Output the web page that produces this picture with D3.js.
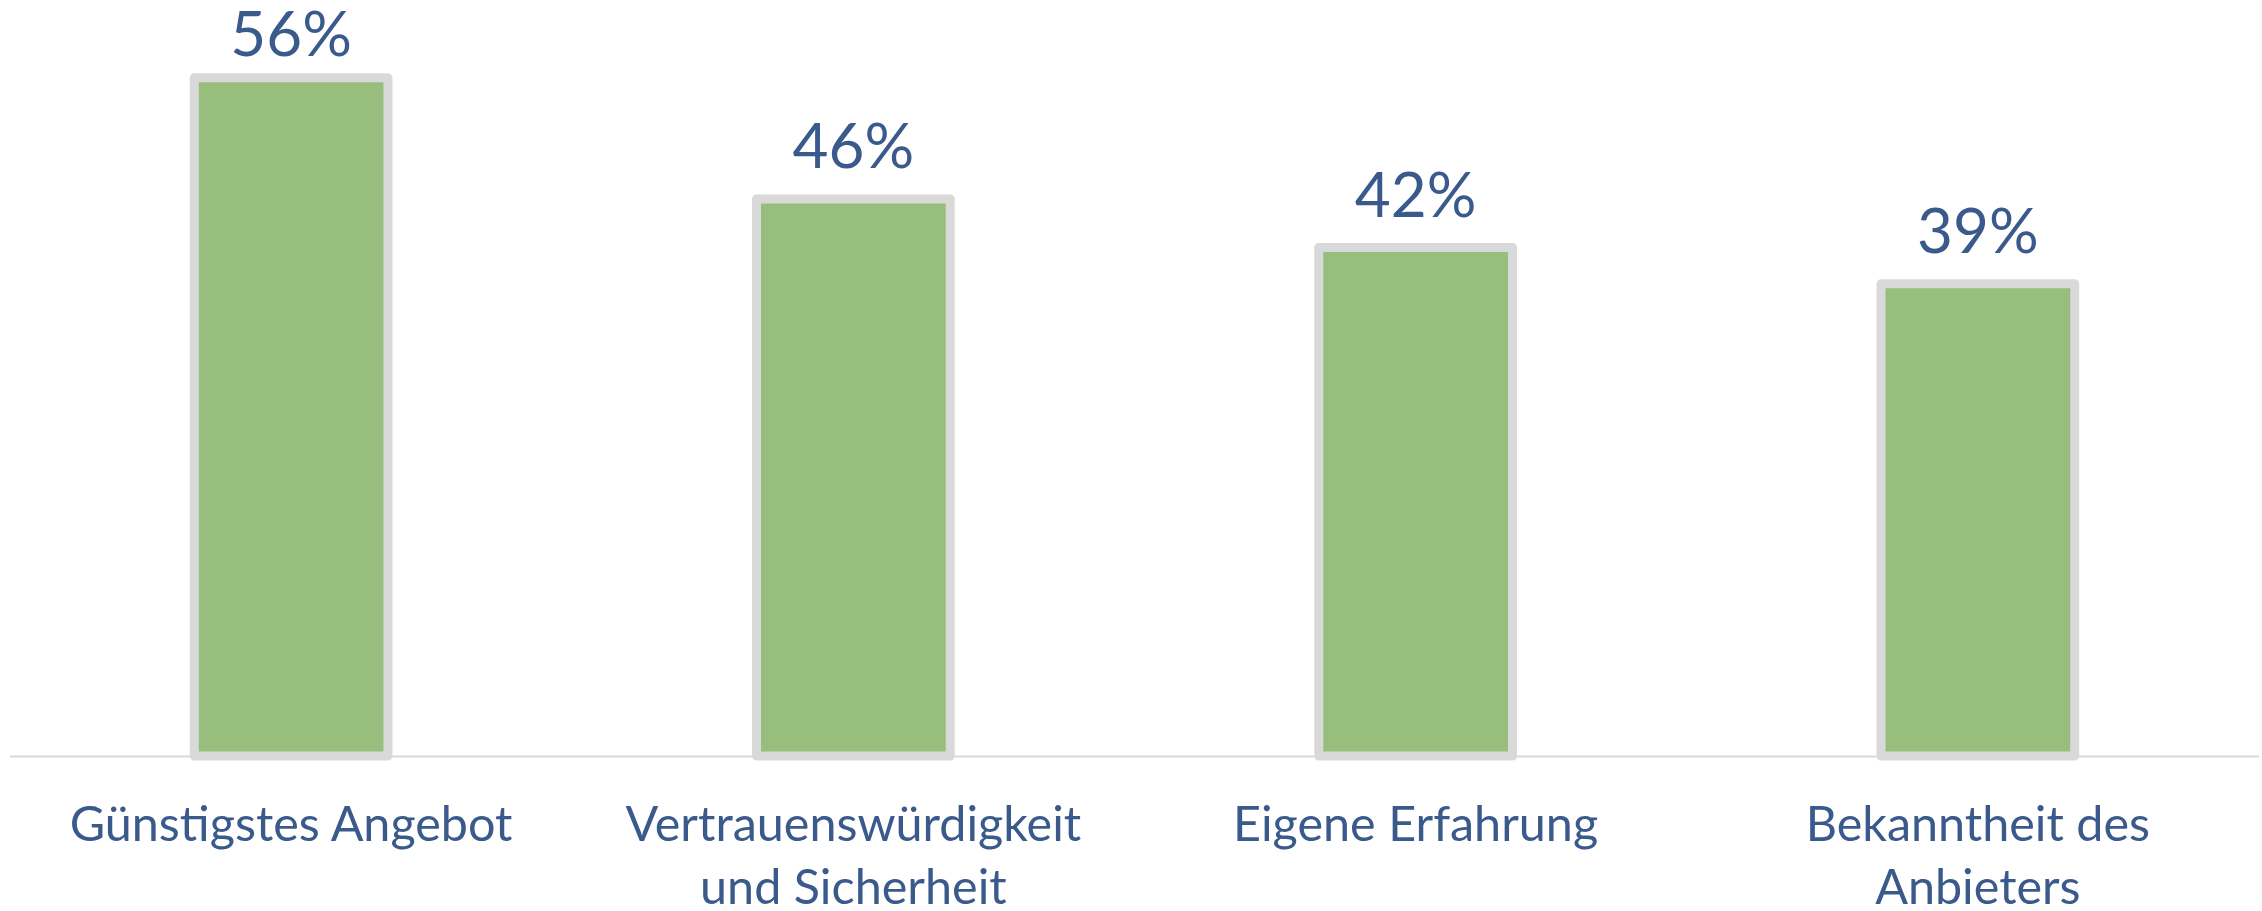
<!DOCTYPE html>
<html>
<head>
<meta charset="utf-8">
<script src="https://cdn.jsdelivr.net/npm/d3@7"></script>
<style>
  html, body { margin: 0; padding: 0; background: #fff; }
  svg { display: block; }
</style>
</head>
<body>
<script>
// data
const categories = [
  ["Günstigstes Angebot"],
  ["Vertrauenswürdigkeit", "und Sicherheit"],
  ["Eigene Erfahrung"],
  ["Bekanntheit des", "Anbieters"]
];
const values = [56, 46, 42, 39];

const width = 2262,
    height = 911,
    textColor = "#3b5a8c";

const svg = d3.select("body").append("svg")
    .attr("width", width)
    .attr("height", height)
    .style("font-family", "Lato, 'Open Sans', sans-serif");

const x = d3.scaleBand()
    .domain(d3.range(values.length))
    .range([10, 2259])
    .padding(0);

const y = d3.scaleLinear()
    .domain([0, 60])
    .range([756, 29.4]);

const barW = x.bandwidth() * 0.3445;

// baseline
svg.append("line")
    .attr("x1", x.range()[0])
    .attr("x2", x.range()[1])
    .attr("y1", y(0) + 0.5)
    .attr("y2", y(0) + 0.5)
    .attr("stroke", "#d9d9d9")
    .attr("stroke-width", 2);

// bars
svg.append("g")
  .selectAll("rect")
  .data(values)
  .join("rect")
    .attr("x", (d, i) => x(i) + (x.bandwidth() - barW) / 2)
    .attr("y", d => y(d))
    .attr("width", barW)
    .attr("height", d => y(0) - y(d))
    .attr("fill", "#97be7c")
    .attr("stroke", "#d9d9d9")
    .attr("stroke-width", 9)
    .attr("stroke-linejoin", "round");

// value labels
svg.append("g")
  .selectAll("text")
  .data(values)
  .join("text")
    .attr("x", (d, i) => x(i) + x.bandwidth() / 2)
    .attr("y", d => Math.max(y(d) - 30.5, 56))
    .attr("text-anchor", "middle")
    .attr("fill", textColor)
    .style("font-size", "62px")
    .text(d => d + "%");

// category labels
const lab = svg.append("g")
  .selectAll("text")
  .data(categories)
  .join("text")
    .attr("x", (d, i) => x(i) + x.bandwidth() / 2)
    .attr("y", 841)
    .attr("text-anchor", "middle")
    .attr("fill", textColor)
    .style("font-size", "48.5px");

lab.selectAll("tspan")
  .data(d => d)
  .join("tspan")
    .attr("x", function() { return this.parentNode.getAttribute("x"); })
    .attr("dy", (d, i) => i ? 63 : 0)
    .text(d => d);
</script>
</body>
</html>
